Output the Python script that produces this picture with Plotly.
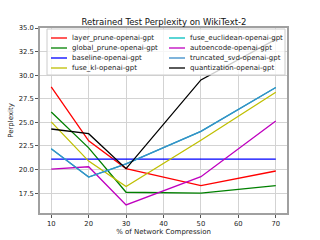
import plotly.graph_objects as go

x = [10, 20, 30, 50, 70]
names = ["layer_prune-openai-gpt", "global_prune-openai-gpt", "baseline-openai-gpt",
         "fuse_kl-openai-gpt", "fuse_euclidean-openai-gpt", "autoencode-openai-gpt",
         "truncated_svd-openai-gpt", "quantization-openai-gpt"]
layer_prune = [28.75, 23.05, 20.1, 18.3, 19.85]
global_prune = [26.1, 22.3, 17.6, 17.5, 18.3]
baseline = [21.1, 21.1, 21.1, 21.1, 21.1]
fuse_kl = [25.05, 20.9, 18.2, 23.1, 28.2]
fuse_euclidean = [22.2, 19.2, 20.6, 24.05, 28.7]
autoencode = [20.05, 20.3, 16.25, 19.25, 25.15]
truncated_svd = [22.2, 19.2, 20.6, 24.05, 28.7]
quantization = [24.3, 23.8, 20.1, 29.5, 33.8]
series = [layer_prune, global_prune, baseline, fuse_kl, fuse_euclidean,
          autoencode, truncated_svd, quantization]
colors = ["#ff0000", "#008000", "#0000ff", "#bfbf00", "#00bfbf", "#bf00bf",
          "#3a8cc8", "#000000"]

W, H = 320, 240
ML, MR, MT, MB = 40, 33, 28, 27
PW, PH = W - ML - MR, H - MT - MB


def px_x(p):
    return (p - ML) / PW


def px_y(p):
    return (H - MB - p) / PH


fig = go.Figure()
for n, s, c in zip(names, series, colors):
    fig.add_trace(go.Scatter(x=x, y=s, mode="lines", name=n, showlegend=False,
                             line=dict(color=c, width=1.3)))

# two-column legend (matplotlib style, column-major order)
shapes = [dict(type="rect", xref="paper", yref="paper",
               x0=px_x(47), x1=px_x(285), y0=px_y(75), y1=px_y(29),
               fillcolor="rgba(255,255,255,0.8)", line=dict(color="#cccccc", width=1),
               layer="above")]
annotations = []
col_x = [51, 169]
row_y = [38, 48, 58, 68]
for i, (n, c) in enumerate(zip(names, colors)):
    cx = col_x[i // 4]
    ry = row_y[i % 4]
    shapes.append(dict(type="line", xref="paper", yref="paper",
                       x0=px_x(cx), x1=px_x(cx + 16), y0=px_y(ry), y1=px_y(ry),
                       line=dict(color=c, width=1.3), layer="above"))
    annotations.append(dict(text=n, xref="paper", yref="paper", x=px_x(cx + 19),
                            y=px_y(ry), xanchor="left", yanchor="middle",
                            showarrow=False, font=dict(size=7, color="#222222")))

axis_common = dict(showgrid=True, gridcolor="#d3d3d3", gridwidth=1,
                   showline=True, linecolor="#a0a0a0", linewidth=1.5, mirror=True,
                   ticks="outside", ticklen=3, tickcolor="#555555",
                   tickfont=dict(size=6.8, color="#222222"), zeroline=False,
                   automargin=False)

fig.update_layout(
    width=W, height=H,
    margin=dict(l=ML, r=MR, t=MT, b=MB),
    paper_bgcolor="white", plot_bgcolor="white",
    font=dict(family="DejaVu Sans", size=7, color="#222222"),
    title=dict(text="Retrained Test Perplexity on WikiText-2", x=px_x(164), xanchor="center",
               xref="paper", y=1 - 21.7 / H, yanchor="middle", yref="container",
               font=dict(size=8.5, color="#111111")),
    xaxis=dict(range=[7, 73], tickvals=[10, 20, 30, 40, 50, 60, 70],
               title=dict(text="% of Network Compression", font=dict(size=7), standoff=2),
               **axis_common),
    yaxis=dict(range=[15.4, 35.0], tickvals=[17.5, 20.0, 22.5, 25.0, 27.5, 30.0, 32.5, 35.0],
               tickformat=".1f",
               title=dict(text="Perplexity", font=dict(size=7), standoff=4),
               **axis_common),
    shapes=shapes,
    annotations=annotations,
)

fig.write_html("out.html", config={"displayModeBar": False},
               post_script="document.body.style.margin='0';")
